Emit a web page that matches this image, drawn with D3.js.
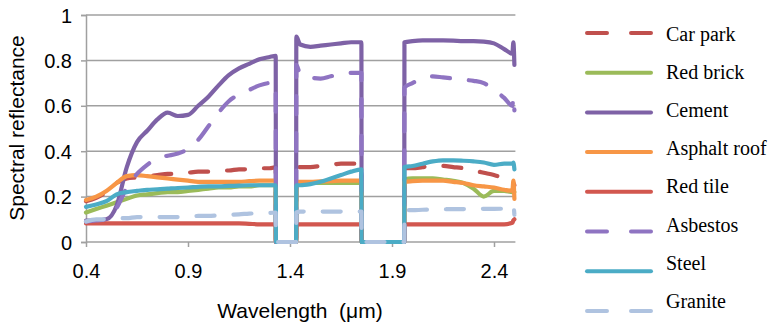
<!DOCTYPE html>
<html>
<head>
<meta charset="utf-8">
<script src="https://cdn.jsdelivr.net/npm/d3@7"></script>
<style>
  body { margin: 0; background: #fff; }
  .tick-label { font-family: "Liberation Sans", Arial, sans-serif; font-size: 20px; fill: #000; }
  .axis-title { font-family: "Liberation Sans", Arial, sans-serif; font-size: 21px; fill: #000; white-space: pre; }
  .legend-label { font-family: "Liberation Serif", "Times New Roman", serif; font-size: 20px; fill: #000; }
</style>
</head>
<body>
<div id="chart"></div>
<script>
// 数据
const wavelengths = [0.40, 0.45, 0.50, 0.55, 0.60, 0.65, 0.70, 0.75, 0.80, 0.85, 0.90, 0.95, 1.00, 1.05, 1.10, 1.15, 1.20, 1.25, 1.30, 1.33,
  1.331, 1.43, 1.431, 1.45, 1.50, 1.55, 1.60, 1.65, 1.70, 1.75, 1.751, 1.96, 1.961,
  2.00, 2.05, 2.10, 2.15, 2.20, 2.25, 2.30, 2.35, 2.40, 2.45, 2.49, 2.495, 2.50];

const carPark = [0.18, 0.195, 0.22, 0.26, 0.28, 0.285, 0.29, 0.295, 0.30, 0.30, 0.305, 0.31, 0.31, 0.315, 0.315, 0.32, 0.32, 0.325, 0.325, 0.33,
  0, 0, 0.33, 0.33, 0.33, 0.335, 0.34, 0.345, 0.345, 0.345, 0, 0, 0.325,
  0.325, 0.33, 0.335, 0.335, 0.33, 0.325, 0.315, 0.305, 0.295, 0.28, 0.26, 0.26, 0.25];

const redBrick = [0.13, 0.145, 0.16, 0.175, 0.19, 0.205, 0.21, 0.215, 0.22, 0.22, 0.225, 0.23, 0.235, 0.24, 0.24, 0.245, 0.245, 0.25, 0.25, 0.25,
  0, 0, 0.255, 0.255, 0.26, 0.26, 0.26, 0.26, 0.26, 0.26, 0, 0, 0.275,
  0.28, 0.28, 0.28, 0.275, 0.27, 0.26, 0.235, 0.2, 0.225, 0.225, 0.22, 0.22, 0.22];

const cement = [0.094, 0.095, 0.10, 0.16, 0.33, 0.44, 0.49, 0.54, 0.57, 0.555, 0.56, 0.60, 0.64, 0.69, 0.735, 0.765, 0.785, 0.805, 0.815, 0.82,
  0, 0, 0.905, 0.87, 0.86, 0.865, 0.87, 0.875, 0.88, 0.88, 0, 0, 0.88,
  0.885, 0.888, 0.888, 0.888, 0.887, 0.885, 0.885, 0.883, 0.875, 0.85, 0.83, 0.88, 0.78];

const asphaltRoof = [0.185, 0.20, 0.225, 0.26, 0.29, 0.295, 0.29, 0.285, 0.28, 0.275, 0.27, 0.265, 0.265, 0.265, 0.265, 0.265, 0.268, 0.27, 0.27, 0.27,
  0, 0, 0.265, 0.265, 0.265, 0.267, 0.268, 0.27, 0.27, 0.27, 0, 0, 0.265,
  0.268, 0.27, 0.27, 0.27, 0.265, 0.26, 0.25, 0.245, 0.24, 0.23, 0.225, 0.27, 0.19];

const redTile = [0.082, 0.082, 0.082, 0.082, 0.082, 0.082, 0.082, 0.082, 0.082, 0.082, 0.082, 0.082, 0.082, 0.082, 0.082, 0.082, 0.08, 0.078, 0.078, 0.078,
  0, 0, 0.078, 0.078, 0.078, 0.078, 0.078, 0.078, 0.078, 0.078, 0, 0, 0.078,
  0.078, 0.078, 0.078, 0.078, 0.078, 0.078, 0.078, 0.078, 0.078, 0.078, 0.085, 0.095, 0.10];

const asbestos = [0.09, 0.095, 0.10, 0.15, 0.24, 0.30, 0.34, 0.37, 0.38, 0.39, 0.41, 0.45, 0.51, 0.57, 0.62, 0.65, 0.67, 0.69, 0.70, 0.70,
  0, 0, 0.78, 0.74, 0.725, 0.72, 0.73, 0.74, 0.745, 0.745, 0, 0, 0.68,
  0.70, 0.72, 0.73, 0.725, 0.72, 0.715, 0.71, 0.70, 0.67, 0.635, 0.60, 0.64, 0.58];

const steel = [0.155, 0.165, 0.18, 0.21, 0.22, 0.225, 0.23, 0.232, 0.235, 0.238, 0.24, 0.243, 0.245, 0.245, 0.247, 0.248, 0.25, 0.25, 0.25, 0.25,
  0, 0, 0.25, 0.25, 0.255, 0.265, 0.28, 0.295, 0.31, 0.32, 0, 0, 0.33,
  0.335, 0.345, 0.355, 0.36, 0.36, 0.358, 0.355, 0.35, 0.34, 0.345, 0.345, 0.35, 0.32];

const granite = [0.09, 0.10, 0.10, 0.105, 0.105, 0.11, 0.11, 0.11, 0.11, 0.11, 0.11, 0.115, 0.115, 0.118, 0.12, 0.122, 0.125, 0.127, 0.128, 0.13,
  0, 0, 0.13, 0.134, 0.134, 0.134, 0.134, 0.134, 0.134, 0.134, 0, 0, 0.14,
  0.14, 0.142, 0.143, 0.144, 0.145, 0.145, 0.146, 0.146, 0.146, 0.147, 0.15, 0.16, 0.12];

const seriesNames = ["Car park", "Red brick", "Cement", "Asphalt roof", "Red tile", "Asbestos", "Steel", "Granite"];
const seriesValues = [carPark, redBrick, cement, asphaltRoof, redTile, asbestos, steel, granite];
const seriesColors = ["#C0504D", "#9BBB59", "#7E62A6", "#F79646", "#D2574F", "#8F74C2", "#4BACC6", "#AFC3E0"];
const seriesDashed = [true, false, false, false, false, true, false, true];

const xTicks = [0.4, 0.9, 1.4, 1.9, 2.4];
const yTicks = [0, 0.2, 0.4, 0.6, 0.8, 1];

// 画布
const width = 771;
const height = 326;
const plot = { left: 86, right: 514.4, top: 15, bottom: 242 };

const svg = d3.select("#chart")
    .append("svg")
    .attr("width", width)
    .attr("height", height);

const x = d3.scaleLinear().domain([0.4, 2.5]).range([plot.left, plot.right]);
const y = d3.scaleLinear().domain([0, 1]).range([plot.bottom, plot.top]);

// 网格线
svg.append("g")
    .selectAll("line")
    .data(yTicks.filter(d => d > 0))
    .enter()
    .append("line")
    .attr("x1", plot.left)
    .attr("x2", plot.right + 1)
    .attr("y1", d => y(d))
    .attr("y2", d => y(d))
    .attr("stroke", "#A0A0A0")
    .attr("stroke-width", 1.5);

// 坐标轴
const yAxis = svg.append("g")
    .attr("transform", `translate(${plot.left},0)`)
    .call(d3.axisLeft(y).tickValues(yTicks).tickSize(5).tickFormat(d3.format("~g")));
yAxis.select(".domain").attr("stroke", "#A0A0A0").attr("stroke-width", 1.5);
yAxis.selectAll(".tick line").attr("stroke", "#A0A0A0").attr("stroke-width", 1.5);
yAxis.selectAll(".tick text").attr("class", "tick-label").attr("x", -14).attr("dy", "0.35em");

const xAxis = svg.append("g")
    .attr("transform", `translate(0,${plot.bottom})`)
    .call(d3.axisBottom(x).tickValues(xTicks).tickSize(5).tickFormat(d3.format(".1f")).tickSizeOuter(0));
xAxis.select(".domain").attr("stroke", "#A0A0A0").attr("stroke-width", 1.5).attr("d", `M${plot.left},0H${plot.right + 1}`);
xAxis.selectAll(".tick line").attr("stroke", "#A0A0A0").attr("stroke-width", 1.5);
xAxis.selectAll(".tick text").attr("class", "tick-label").attr("y", 22).attr("dy", "0.71em");

// 数据线
const line = d3.line()
    .x(d => x(d[0]))
    .y(d => y(d[1]))
    .curve(d3.curveMonotoneX);

const linesGroup = svg.append("g");
seriesValues.forEach((vals, i) => {
    const pts = wavelengths.map((w, j) => [w, vals[j]]);
    linesGroup.append("path")
        .attr("d", line(pts))
        .attr("fill", "none")
        .attr("stroke", seriesColors[i])
        .attr("stroke-width", 4.2)
        .attr("stroke-linejoin", "round")
        .attr("stroke-linecap", "round")
        .attr("stroke-dasharray", seriesDashed[i] ? "18,19" : null);
});

// 坐标轴标题
svg.append("text")
    .attr("class", "axis-title")
    .attr("transform", "translate(24,128) rotate(-90)")
    .attr("text-anchor", "middle")
    .text("Spectral reflectance");

svg.append("text")
    .attr("class", "axis-title")
    .attr("x", 300)
    .attr("y", 318)
    .attr("text-anchor", "middle")
    .text("Wavelength  (μm)");

// 图例
const legend = svg.append("g");
seriesNames.forEach((name, i) => {
    const ly = 33 + i * 39.7;
    legend.append("line")
        .attr("x1", 587)
        .attr("x2", 651)
        .attr("y1", ly)
        .attr("y2", ly)
        .attr("stroke", seriesColors[i])
        .attr("stroke-width", 4)
        .attr("stroke-linecap", "round")
        .attr("stroke-dasharray", seriesDashed[i] ? "20,24" : null);
    legend.append("text")
        .attr("class", "legend-label")
        .attr("x", 666)
        .attr("y", 41 + i * 38.1)
        .text(name);
});
</script>
</body>
</html>
